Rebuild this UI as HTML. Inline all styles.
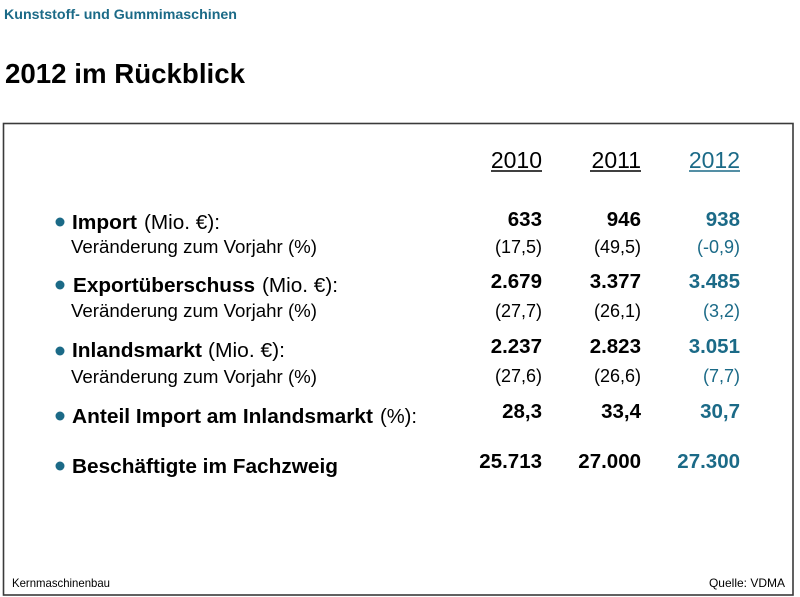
<!DOCTYPE html>
<html>
<head>
<meta charset="utf-8">
<style>
html,body{margin:0;padding:0;background:#fff;}
body{width:800px;height:597px;overflow:hidden;}
svg{display:block;}
text{font-family:"Liberation Sans",Arial,sans-serif;}
.b{font-weight:bold;}
.t{fill:#1b6a87;}
</style>
</head>
<body>
<svg width="800" height="597" viewBox="0 0 800 597" xmlns="http://www.w3.org/2000/svg">
<rect x="0" y="0" width="800" height="597" fill="#fff"/>
<text x="4" y="19" class="b t" font-size="13.5" textLength="233" lengthAdjust="spacingAndGlyphs">Kunststoff- und Gummimaschinen</text>
<text x="5" y="83" class="b" font-size="28" fill="#000" textLength="240" lengthAdjust="spacingAndGlyphs">2012 im Rückblick</text>

<rect x="3.5" y="123.5" width="789.5" height="471.5" fill="none" stroke="#3a3a3a" stroke-width="1.6"/>

<!-- years -->
<text x="542" y="168" font-size="23" text-anchor="end" fill="#000">2010</text>
<text x="641" y="168" font-size="23" text-anchor="end" fill="#000">2011</text>
<text x="740" y="168" font-size="23" text-anchor="end" class="t">2012</text>
<line x1="491" y1="171" x2="542" y2="171" stroke="#000" stroke-width="1.4"/>
<line x1="590" y1="171" x2="641" y2="171" stroke="#000" stroke-width="1.4"/>
<line x1="689" y1="171" x2="740" y2="171" stroke="#1b6a87" stroke-width="1.4"/>

<!-- bullets -->
<g fill="#1b6a87">
<circle cx="60" cy="222" r="4.5"/>
<circle cx="60" cy="285" r="4.5"/>
<circle cx="60" cy="351" r="4.5"/>
<circle cx="60" cy="416" r="4.5"/>
<circle cx="60" cy="466" r="4.5"/>
</g>

<!-- labels -->
<text x="72" y="229" class="b" font-size="20" fill="#000" textLength="65" lengthAdjust="spacingAndGlyphs">Import</text>
<text x="144" y="229" font-size="20" fill="#000" textLength="76" lengthAdjust="spacingAndGlyphs">(Mio. €):</text>
<text x="71" y="253" font-size="18" fill="#000" textLength="246" lengthAdjust="spacingAndGlyphs">Veränderung zum Vorjahr (%)</text>

<text x="73" y="292" class="b" font-size="20" fill="#000" textLength="182" lengthAdjust="spacingAndGlyphs">Exportüberschuss</text>
<text x="262" y="292" font-size="20" fill="#000" textLength="76" lengthAdjust="spacingAndGlyphs">(Mio. €):</text>
<text x="71" y="317" font-size="18" fill="#000" textLength="246" lengthAdjust="spacingAndGlyphs">Veränderung zum Vorjahr (%)</text>

<text x="72" y="357" class="b" font-size="20" fill="#000" textLength="130" lengthAdjust="spacingAndGlyphs">Inlandsmarkt</text>
<text x="208" y="357" font-size="20" fill="#000" textLength="77" lengthAdjust="spacingAndGlyphs">(Mio. €):</text>
<text x="71" y="383" font-size="18" fill="#000" textLength="246" lengthAdjust="spacingAndGlyphs">Veränderung zum Vorjahr (%)</text>

<text x="72" y="423" class="b" font-size="20" fill="#000" textLength="301" lengthAdjust="spacingAndGlyphs">Anteil Import am Inlandsmarkt</text>
<text x="380" y="423" font-size="20" fill="#000" textLength="37" lengthAdjust="spacingAndGlyphs">(%):</text>

<text x="72" y="473" class="b" font-size="20" fill="#000" textLength="266" lengthAdjust="spacingAndGlyphs">Beschäftigte im Fachzweig</text>

<!-- values col 2010 -->
<g text-anchor="end" fill="#000">
<text x="542" y="226" class="b" font-size="20.5">633</text>
<text x="542" y="253" font-size="18">(17,5)</text>
<text x="542" y="288" class="b" font-size="20.5">2.679</text>
<text x="542" y="317" font-size="18">(27,7)</text>
<text x="542" y="353" class="b" font-size="20.5">2.237</text>
<text x="542" y="382" font-size="18">(27,6)</text>
<text x="542" y="418" class="b" font-size="20.5">28,3</text>
<text x="542" y="468" class="b" font-size="20.5">25.713</text>
</g>
<!-- values col 2011 -->
<g text-anchor="end" fill="#000">
<text x="641" y="226" class="b" font-size="20.5">946</text>
<text x="641" y="253" font-size="18">(49,5)</text>
<text x="641" y="288" class="b" font-size="20.5">3.377</text>
<text x="641" y="317" font-size="18">(26,1)</text>
<text x="641" y="353" class="b" font-size="20.5">2.823</text>
<text x="641" y="382" font-size="18">(26,6)</text>
<text x="641" y="418" class="b" font-size="20.5">33,4</text>
<text x="641" y="468" class="b" font-size="20.5">27.000</text>
</g>
<!-- values col 2012 -->
<g text-anchor="end" fill="#1b6a87">
<text x="740" y="226" class="b" font-size="20.5">938</text>
<text x="740" y="253" font-size="18">(-0,9)</text>
<text x="740" y="288" class="b" font-size="20.5">3.485</text>
<text x="740" y="317" font-size="18">(3,2)</text>
<text x="740" y="353" class="b" font-size="20.5">3.051</text>
<text x="740" y="382" font-size="18">(7,7)</text>
<text x="740" y="418" class="b" font-size="20.5">30,7</text>
<text x="740" y="468" class="b" font-size="20.5">27.300</text>
</g>

<!-- footer -->
<text x="12" y="587" font-size="12" fill="#000" textLength="98" lengthAdjust="spacingAndGlyphs">Kernmaschinenbau</text>
<text x="785" y="587" font-size="12" fill="#000" text-anchor="end">Quelle: VDMA</text>
</svg>
</body>
</html>
